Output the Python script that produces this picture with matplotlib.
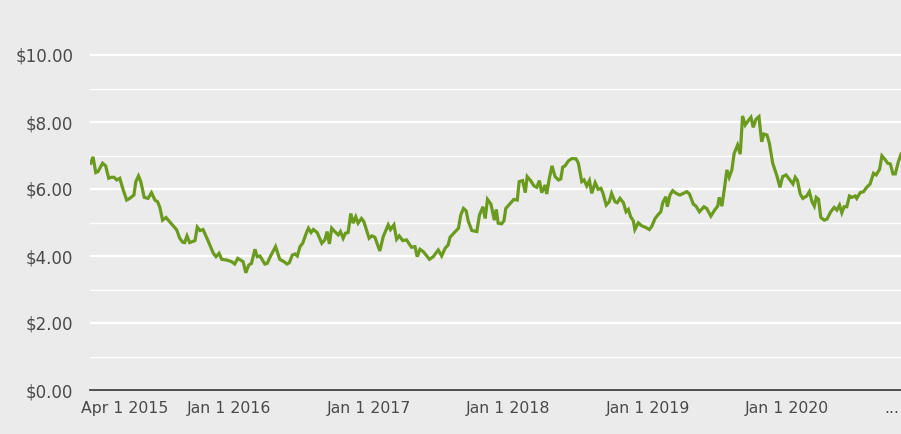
import matplotlib
matplotlib.use("Agg")
import matplotlib.pyplot as plt
from matplotlib.ticker import FixedLocator, FuncFormatter
import pandas as pd

# weekly-ish price points
dates = [
    "2015-01-03", "2015-01-09", "2015-01-16", "2015-01-22", "2015-02-03", "2015-02-11",
    "2015-02-19", "2015-02-26", "2015-03-05", "2015-03-12", "2015-03-20", "2015-03-29",
    "2015-04-07", "2015-04-15", "2015-04-26", "2015-05-01", "2015-05-08", "2015-05-14",
    "2015-05-23", "2015-06-02", "2015-06-11", "2015-06-20", "2015-06-27", "2015-07-03",
    "2015-07-10", "2015-07-19", "2015-07-28", "2015-08-07", "2015-08-16", "2015-08-24",
    "2015-09-01", "2015-09-06", "2015-09-12", "2015-09-19", "2015-10-03", "2015-10-09",
    "2015-10-16", "2015-10-24", "2015-11-06", "2015-11-20", "2015-11-27", "2015-12-05",
    "2015-12-12", "2015-12-25", "2016-01-07", "2016-01-15", "2016-01-23", "2016-02-06",
    "2016-02-13", "2016-02-21", "2016-02-28", "2016-03-08", "2016-03-14", "2016-03-21",
    "2016-04-03", "2016-04-09", "2016-04-18", "2016-05-01", "2016-05-12", "2016-05-23",
    "2016-05-31", "2016-06-06", "2016-06-14", "2016-06-21", "2016-06-27", "2016-07-04",
    "2016-07-11", "2016-07-21", "2016-07-26", "2016-08-02", "2016-08-08", "2016-08-18",
    "2016-08-30", "2016-09-07", "2016-09-13", "2016-09-19", "2016-09-25", "2016-10-03",
    "2016-10-12", "2016-10-18", "2016-10-25", "2016-10-31", "2016-11-07", "2016-11-14",
    "2016-11-20", "2016-11-27", "2016-12-03", "2016-12-12", "2016-12-18", "2017-01-01",
    "2017-01-08", "2017-01-16", "2017-01-29", "2017-02-07", "2017-02-20", "2017-02-26",
    "2017-03-07", "2017-03-14", "2017-03-21", "2017-03-30", "2017-04-09", "2017-04-22",
    "2017-05-01", "2017-05-07", "2017-05-14", "2017-05-23", "2017-06-08", "2017-06-18",
    "2017-07-01", "2017-07-10", "2017-07-19", "2017-07-27", "2017-08-01", "2017-08-09",
    "2017-08-23", "2017-08-29", "2017-09-05", "2017-09-12", "2017-09-18", "2017-09-27",
    "2017-10-10", "2017-10-17", "2017-10-26", "2017-11-01", "2017-11-07", "2017-11-16",
    "2017-11-25", "2017-11-30", "2017-12-05", "2017-12-14", "2017-12-20", "2017-12-25",
    "2018-01-07", "2018-01-15", "2018-01-24", "2018-01-29", "2018-02-07", "2018-02-14",
    "2018-02-19", "2018-02-28", "2018-03-09", "2018-03-16", "2018-03-23", "2018-03-29",
    "2018-04-07", "2018-04-11", "2018-04-18", "2018-04-25", "2018-05-03", "2018-05-12",
    "2018-05-18", "2018-05-23", "2018-05-29", "2018-06-07", "2018-06-16", "2018-06-27",
    "2018-07-03", "2018-07-12", "2018-07-18", "2018-07-25", "2018-08-01", "2018-08-07",
    "2018-08-16", "2018-08-24", "2018-08-31", "2018-09-05", "2018-09-14", "2018-09-22",
    "2018-09-28", "2018-10-07", "2018-10-13", "2018-10-20", "2018-10-29", "2018-11-05",
    "2018-11-11", "2018-11-17", "2018-11-24", "2018-11-28", "2018-12-07", "2018-12-16",
    "2018-12-25", "2019-01-05", "2019-01-11", "2019-01-20", "2019-01-29", "2019-02-04",
    "2019-02-09", "2019-02-17", "2019-02-21", "2019-02-28", "2019-03-07", "2019-03-16",
    "2019-03-26", "2019-04-13", "2019-04-20", "2019-04-30", "2019-05-07", "2019-05-16",
    "2019-05-28", "2019-06-04", "2019-06-15", "2019-06-26", "2019-07-03", "2019-07-07",
    "2019-07-14", "2019-07-20", "2019-07-27", "2019-08-02", "2019-08-09", "2019-08-15",
    "2019-08-24", "2019-08-31", "2019-09-06", "2019-09-13", "2019-09-21", "2019-09-28",
    "2019-10-04", "2019-10-11", "2019-10-19", "2019-10-26", "2019-11-01", "2019-11-09",
    "2019-11-15", "2019-11-24", "2019-12-05", "2019-12-13", "2019-12-20", "2019-12-29",
    "2020-01-08", "2020-01-16", "2020-01-22", "2020-01-28", "2020-02-04", "2020-02-11",
    "2020-02-21", "2020-02-28", "2020-03-06", "2020-03-12", "2020-03-17", "2020-03-23",
    "2020-03-29", "2020-04-07", "2020-04-14", "2020-04-24", "2020-05-03", "2020-05-10",
    "2020-05-17", "2020-05-23", "2020-05-29", "2020-06-05", "2020-06-12", "2020-06-18",
    "2020-06-27", "2020-07-01", "2020-07-10", "2020-07-19", "2020-07-27", "2020-08-05",
    "2020-08-14", "2020-08-21", "2020-08-30", "2020-09-05", "2020-09-14", "2020-09-20",
    "2020-09-27", "2020-10-04", "2020-10-10", "2020-10-18", "2020-10-25",
]
prices = [
    6.77, 6.96, 6.49, 6.52, 6.77, 6.69,
    6.32, 6.35, 6.35, 6.27, 6.32, 5.97,
    5.67, 5.72, 5.82, 6.22, 6.39, 6.22,
    5.75, 5.72, 5.89, 5.67, 5.62, 5.45,
    5.07, 5.15, 5.03, 4.90, 4.78, 4.53,
    4.41, 4.40, 4.60, 4.40, 4.46, 4.86,
    4.76, 4.79, 4.46, 4.08, 3.98, 4.08,
    3.90, 3.88, 3.83, 3.76, 3.93, 3.83,
    3.50, 3.73, 3.78, 4.20, 3.98, 4.00,
    3.76, 3.78, 4.00, 4.28, 3.90, 3.83,
    3.76, 3.80, 4.03, 4.06, 4.00, 4.28,
    4.38, 4.70, 4.83, 4.70, 4.79, 4.70,
    4.38, 4.48, 4.73, 4.36, 4.83, 4.73,
    4.63, 4.73, 4.53, 4.68, 4.70, 5.27,
    4.98, 5.17, 4.98, 5.12, 5.03, 4.53,
    4.60, 4.56, 4.15, 4.58, 4.93, 4.79,
    4.93, 4.50, 4.60, 4.46, 4.48, 4.26,
    4.28, 3.98, 4.20, 4.13, 3.90, 3.98,
    4.18, 4.00, 4.23, 4.33, 4.56, 4.66,
    4.83, 5.22, 5.42, 5.35, 5.03, 4.76,
    4.73, 5.22, 5.47, 5.12, 5.69, 5.55,
    5.07, 5.39, 4.98, 4.96, 5.05, 5.42,
    5.59, 5.69, 5.67, 6.22, 6.25, 5.89,
    6.37, 6.25, 6.09, 6.05, 6.25, 5.89,
    6.12, 5.85, 6.32, 6.69, 6.37, 6.27,
    6.30, 6.65, 6.69, 6.84, 6.91, 6.90,
    6.77, 6.22, 6.27, 6.09, 6.25, 5.87,
    6.19, 5.99, 6.02, 5.89, 5.52, 5.62,
    5.87, 5.62, 5.59, 5.72, 5.59, 5.32,
    5.39, 5.17, 5.05, 4.79, 4.99, 4.90,
    4.86, 4.79, 4.88, 5.12, 5.25, 5.32,
    5.59, 5.77, 5.47, 5.82, 5.95, 5.87,
    5.82, 5.92, 5.85, 5.55, 5.49, 5.32,
    5.47, 5.42, 5.19, 5.39, 5.49, 5.75,
    5.49, 5.97, 6.57, 6.35, 6.57, 7.06,
    7.31, 7.04, 8.18, 7.91, 8.04, 8.14,
    7.84, 8.08, 8.16, 7.41, 7.64, 7.61,
    7.38, 6.77, 6.39, 6.05, 6.37, 6.42,
    6.27, 6.15, 6.35, 6.25, 5.85, 5.72,
    5.79, 5.92, 5.62, 5.49, 5.75, 5.69,
    5.15, 5.07, 5.10, 5.32, 5.45, 5.37,
    5.52, 5.29, 5.47, 5.47, 5.79, 5.75,
    5.79, 5.72, 5.89, 5.92, 6.05, 6.15,
    6.47, 6.42, 6.59, 6.99, 6.87, 6.77,
    6.75, 6.45, 6.45, 6.81, 7.04,
]

y_major = [0, 2, 4, 6, 8, 10]
y_minor = [1, 3, 5, 7, 9]

tick_dates = ["2015-04-01", "2016-01-01", "2017-01-01", "2018-01-01",
              "2019-01-01", "2020-01-01", "2020-10-01"]
tick_labels = ["Apr 1 2015", "Jan 1 2016", "Jan 1 2017", "Jan 1 2018",
               "Jan 1 2019", "Jan 1 2020", "..."]

bg = "#ebebeb"
txt = "#4a4a4a"

fig = plt.figure(figsize=(9.01, 4.34), dpi=100, facecolor=bg)
ax = fig.add_axes([90 / 901, 1 - 390 / 434, 811 / 901, 390 / 434])
ax.set_facecolor(bg)

x = pd.to_datetime(dates)
ax.plot(x, prices, color="#6b9b1e", lw=2.3, solid_joinstyle="miter", zorder=3)

ax.set_ylim(0, 390 / 33.5)
ax.set_xlim(pd.Timestamp("2015-01-01"), x[-1])

ax.yaxis.set_major_locator(FixedLocator(y_major))
ax.yaxis.set_minor_locator(FixedLocator(y_minor))
ax.yaxis.set_major_formatter(FuncFormatter(lambda v, p: "${:.2f}".format(v)))
ax.grid(which="major", axis="y", color="white", lw=1.6)
ax.grid(which="minor", axis="y", color="white", lw=1.0)
ax.set_axisbelow(True)

ax.set_xticks(pd.to_datetime(tick_dates))
ax.set_xticklabels(tick_labels)

for s in ["top", "right", "left"]:
    ax.spines[s].set_visible(False)
ax.spines["bottom"].set_color("#333333")
ax.spines["bottom"].set_linewidth(1.2)

ax.tick_params(axis="y", which="both", length=0, pad=12, labelsize=12, labelcolor=txt)
ax.tick_params(axis="x", length=0, pad=8, labelsize=11.3, labelcolor=txt)

fig.savefig("out.png", dpi=100, facecolor=bg)
